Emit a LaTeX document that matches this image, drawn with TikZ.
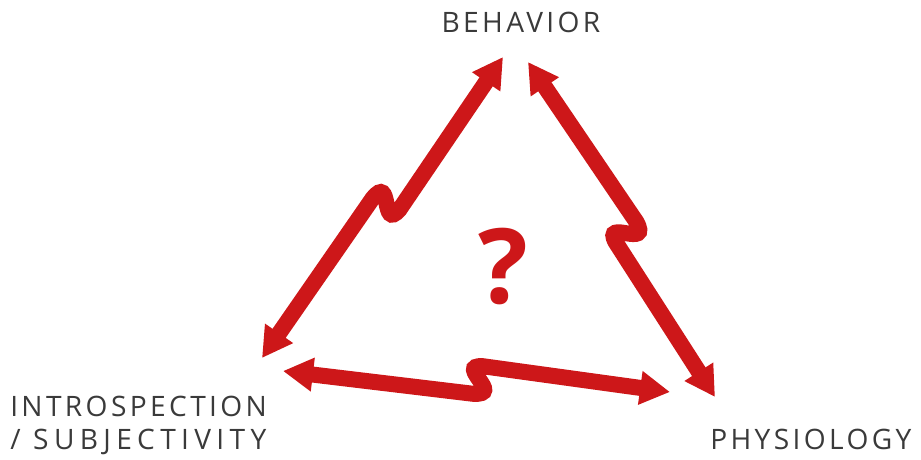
\documentclass[tikz,border=0pt]{standalone}
\usepackage{fontspec}
\setmainfont{Open Sans}
\newfontfamily\cornerfont[LetterSpace=12]{Open Sans}
\usepackage{tikz}
\usetikzlibrary{arrows.meta}
\definecolor{tri-red}{HTML}{CD1719}
\definecolor{tri-text}{HTML}{3A3A3A}

\begin{document}
\begin{tikzpicture}[
    x=0.025cm, y=-0.025cm,
    ribbonhead/.tip={Triangle[length=0.75cm, width=0.8cm]},
    ribbon/.style={draw=tri-red, line width=0.4cm, ribbonhead-ribbonhead},
    corner/.style={font=\cornerfont\fontsize{20}{23.4}\selectfont, text=tri-text, inner sep=0pt, align=left}
]
\useasboundingbox (0,0) rectangle (921,460);

% ── Ecken / Beschriftungen ────────────────────────────────
\node[corner, anchor=base] (behavior) at (521,32.5) {BEHAVIOR};
\node[corner, anchor=north west] (intro) at (10,396) {INTROSPECTION\\\addfontfeature{LetterSpace=19}/ SUBJECTIVITY};
\node[corner, anchor=base west] (physio) at (710,449) {PHYSIOLOGY};

% ── Pfeilenden ────────────────────────────────────────────
\coordinate (beh-left) at (503,57);
\coordinate (beh-right) at (528,62);
\coordinate (intro-up) at (262,358);
\coordinate (intro-right) at (283,371);
\coordinate (phys-up) at (715,397);
\coordinate (phys-left) at (670,392);

% ── Verdrehte Doppelpfeile ────────────────────────────────
\draw[ribbon] (intro-up) -- (372.6,198.4) .. controls (392.6,173.4) and (380.4,231.6) .. (399.4,209.6) -- (beh-left);
\draw[ribbon] (beh-right) -- (636.3,221.7) .. controls (651.9,249.6) and (602.1,217.9) .. (615.7,242.3) -- (phys-up);
\draw[ribbon] (intro-right) -- (473.2,393.8) .. controls (505.2,395.5) and (454.8,364.5) .. (482.8,366.2) -- (phys-left);

% ── Fragezeichen in der Mitte ─────────────────────────────
\node[font=\fontsize{74}{74}\selectfont\bfseries, text=tri-red, anchor=base] (question) at (503,303) {?};

\end{tikzpicture}
\end{document}
